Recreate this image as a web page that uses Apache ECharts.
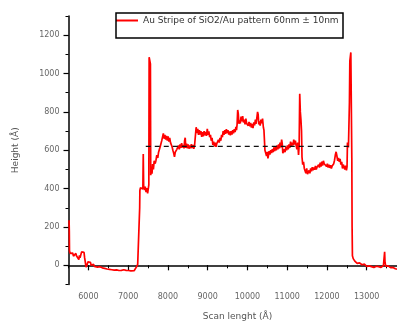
<!DOCTYPE html>
<html>
<head>
<meta charset="utf-8">
<style>
  html, body { margin: 0; padding: 0; background: #fff; }
  #chart { width: 397px; height: 325px; }
</style>
<script src="https://cdn.jsdelivr.net/npm/echarts@6/dist/echarts.min.js"></script>
</head>
<body>
<div id="chart"></div>
<script>
// Height profile across the Au stripe (scan position in Å, height in Å)
const scanX = [
  5515, 5520, 5525, 5545, 5565, 5585, 5605, 5625, 5645, 5665, 5685, 5700, 5720, 5740, 5760, 5775, 5790, 5810, 5830, 5850,
  5870, 5890, 5905, 5920, 5940, 5955, 5970, 5990, 6010, 6030, 6050, 6070, 6090, 6110, 6130, 6150, 6175, 6200, 6230, 6260,
  6290, 6320, 6350, 6380, 6410, 6440, 6470, 6500, 6530, 6560, 6590, 6620, 6650, 6680, 6710, 6740, 6770, 6800, 6830, 6860,
  6890, 6920, 6950, 6980, 7010, 7040, 7070, 7100, 7120, 7150, 7180, 7210, 7240, 7260, 7280, 7290, 7295, 7310, 7330, 7350,
  7370, 7380, 7390, 7410, 7430, 7450, 7470, 7490, 7510, 7520, 7528, 7545, 7560, 7568, 7585, 7600, 7615, 7635, 7655, 7680,
  7700, 7720, 7745, 7765, 7785, 7805, 7825, 7845, 7865, 7885, 7905, 7925, 7945, 7965, 7985, 8005, 8025, 8045, 8065, 8085,
  8105, 8125, 8145, 8165, 8185, 8205, 8225, 8245, 8265, 8285, 8305, 8325, 8345, 8365, 8385, 8405, 8420, 8435, 8450, 8470,
  8490, 8510, 8530, 8550, 8570, 8590, 8610, 8630, 8650, 8670, 8690, 8710, 8730, 8750, 8770, 8790, 8810, 8830, 8850, 8870,
  8890, 8910, 8930, 8950, 8970, 8990, 9010, 9030, 9050, 9070, 9090, 9110, 9130, 9150, 9170, 9190, 9210, 9230, 9250, 9270,
  9290, 9310, 9330, 9350, 9370, 9390, 9410, 9430, 9450, 9470, 9490, 9510, 9530, 9550, 9570, 9590, 9610, 9630, 9650, 9670,
  9690, 9710, 9725, 9740, 9755, 9770, 9785, 9800, 9820, 9840, 9860, 9880, 9900, 9920, 9940, 9960, 9980, 10000, 10020, 10040,
  10060, 10080, 10100, 10120, 10140, 10160, 10180, 10200, 10215, 10235, 10255, 10270, 10285, 10300, 10320, 10340, 10360, 10380, 10400, 10415,
  10430, 10440, 10460, 10480, 10500, 10515, 10530, 10545, 10565, 10585, 10605, 10625, 10645, 10665, 10685, 10705, 10725, 10745, 10765, 10785,
  10805, 10820, 10840, 10860, 10875, 10890, 10905, 10925, 10945, 10965, 10985, 11005, 11025, 11045, 11065, 11085, 11105, 11125, 11145, 11165,
  11185, 11205, 11225, 11245, 11265, 11285, 11300, 11315, 11330, 11345, 11360, 11372, 11390, 11410, 11430, 11450, 11470, 11490, 11510, 11530,
  11550, 11570, 11590, 11610, 11630, 11650, 11670, 11690, 11710, 11730, 11750, 11770, 11790, 11810, 11830, 11850, 11870, 11890, 11910, 11930,
  11950, 11970, 11990, 12010, 12030, 12050, 12070, 12090, 12110, 12130, 12150, 12170, 12190, 12210, 12230, 12250, 12270, 12290, 12310, 12330,
  12350, 12370, 12390, 12410, 12430, 12450, 12470, 12490, 12505, 12515, 12525, 12540, 12555, 12565, 12575, 12590, 12600, 12615, 12625, 12632,
  12640, 12660, 12680, 12700, 12720, 12740, 12760, 12780, 12800, 12820, 12840, 12860, 12880, 12900, 12920, 12940, 12960, 12980, 13000, 13020,
  13040, 13060, 13080, 13100, 13120, 13140, 13160, 13180, 13200, 13220, 13240, 13260, 13280, 13300, 13320, 13340, 13360, 13380, 13400, 13420,
  13440, 13450, 13460, 13480, 13500, 13520, 13540, 13560, 13580, 13600, 13620, 13640, 13660, 13680, 13700, 13720, 13740, 13760
];
const heightY = [
  235, 180, 75, 62, 72, 55, 64, 48, 58, 45, 62, 50, 42, 56, 30, 52, 40, 50, 70, 66,
  72, 68, 40, 20, -10, -18, 5, 18, 26, 8, 16, 0, 10, -2, 6, -6, 2, -4, -9, -1,
  -7, -3, -13, -7, -16, -12, -19, -14, -21, -15, -23, -18, -25, -18, -24, -20, -27, -21, -26, -29,
  -23, -31, -26, -33, -27, -36, -29, -39, -32, -28, -20, -8, 5, 15, 12, 300, 390, 405, 395, 415,
  398, 580, 415, 392, 410, 382, 402, 375, 370, 420, 1085, 1085, 1050, 470, 505, 478, 528, 500, 545, 530,
  548, 575, 560, 590, 585, 618, 610, 650, 640, 688, 660, 680, 655, 675, 650, 672, 645, 665, 640, 630,
  618, 600, 585, 566, 590, 580, 605, 595, 625, 605, 630, 612, 637, 615, 628, 610, 650, 665, 612, 635,
  610, 630, 608, 625, 610, 632, 612, 628, 608, 625, 615, 720, 690, 712, 680, 705, 682, 700, 670, 695,
  672, 700, 678, 695, 675, 712, 680, 698, 668, 680, 650, 665, 628, 645, 620, 640, 618, 635, 625, 655,
  640, 665, 650, 680, 668, 700, 680, 705, 685, 710, 690, 705, 682, 698, 678, 700, 682, 705, 688, 710,
  695, 722, 705, 735, 810, 790, 738, 755, 740, 775, 750, 778, 745, 760, 735, 765, 740, 750, 728, 748,
  725, 742, 718, 738, 715, 745, 730, 760, 738, 765, 800, 785, 735, 750, 728, 760, 740, 765, 720, 705,
  700, 600, 585, 570, 592, 558, 575, 595, 578, 600, 585, 605, 590, 615, 595, 618, 600, 625, 605, 630,
  610, 640, 615, 655, 635, 585, 578, 605, 590, 618, 600, 625, 605, 630, 612, 645, 620, 640, 625, 655,
  630, 650, 625, 605, 640, 575, 625, 895, 800, 760, 700, 565, 525, 540, 505, 515, 480, 505, 475, 470,
  495, 480, 505, 490, 512, 495, 510, 498, 518, 500, 512, 505, 525, 510, 535, 515, 540, 520, 545, 530,
  520, 535, 515, 530, 510, 525, 508, 522, 505, 518, 512, 530, 548, 575, 592, 570, 545, 560, 540, 555,
  525, 540, 505, 525, 535, 500, 520, 495, 515, 640, 650, 615, 620, 850, 1065, 1060, 1110, 1105, 560, 200,
  50, 35, 25, 22, 15, 18, 10, 16, 6, 13, 4, 11, 3, 9, 1, 6, -3, 4, -6, -1,
  -9, -3, -9, -2, -7, -1, -6, -11, -3, -13, -5, -11, -15, -7, -13, -5, -11, -3, -9, -1,
  5, 70, 15, -5, 3, 5, -3, -8, -4, -12, -9, -14, -11, -17, -14, -18, -15, -20
];

// Mean stripe height guide
const guideX = [7443, 12555];
const guideY = [620, 620];

// Axis ticks
const xMajorTicks = [6000, 7000, 8000, 9000, 10000, 11000, 12000, 13000, 14000];
const xTickLabels = [6000, 7000, 8000, 9000, 10000, 11000, 12000, 13000];
const yMajorTicks = [0, 200, 400, 600, 800, 1000, 1200];

const seriesName = 'Au Stripe of SiO2/Au pattern 60nm \u00b1 10nm';

const profile = scanX.map((x, i) => [x, heightY[i]]);
const guide = guideX.map((x, i) => [x, guideY[i]]);

const labelFont = { fontFamily: 'DejaVu Sans', fontSize: 8, color: '#666', formatter: v => String(v) };
const lineBlack = { color: '#000', width: 1.5 };

const chart = echarts.init(document.getElementById('chart'), null, { renderer: 'canvas' });
chart.setOption({
  animation: false,
  backgroundColor: '#fff',
  grid: { left: 68.5, top: 16, width: 338, height: 268.5, containLabel: false, outerBoundsMode: 'none' },
  legend: {
    data: [{ name: seriesName, icon: 'rect' }],
    left: 116, top: 13,
    itemWidth: 22, itemHeight: 2, itemGap: 0,
    padding: [3, 0, 0, 0],
    textStyle: { fontFamily: 'DejaVu Sans', fontSize: 9, color: '#333' }
  },
  graphic: [{
    type: 'rect',
    shape: { x: 116, y: 13, width: 227, height: 25 },
    style: { fill: 'none', stroke: '#000', lineWidth: 1.5 },
    z: 100
  }],
  xAxis: [{
    type: 'value', min: 5500, max: 14000, position: 'bottom',
    name: 'Scan lenght (\u00c5)', nameLocation: 'middle', nameGap: 28,
    nameTextStyle: { fontFamily: 'DejaVu Sans', fontSize: 9, color: '#555' },
    axisLine: { show: true, lineStyle: lineBlack },
    axisTick: { show: true, customValues: xMajorTicks, length: 5, lineStyle: { color: '#000', width: 1.2 } },
    axisLabel: { customValues: xTickLabels, margin: 8, ...labelFont },
    splitLine: { show: false }
  }, {
    type: 'value', min: 5500, max: 14000, interval: 500, position: 'bottom',
    axisLine: { show: false },
    axisTick: { show: true, length: 3, lineStyle: { color: '#000', width: 1 } },
    axisLabel: { show: false },
    splitLine: { show: false }
  }],
  yAxis: [{
    type: 'value', min: -100, max: 1300, position: 'left',
    name: 'Height (\u00c5)', nameLocation: 'middle', nameGap: 48, nameRotate: 90,
    nameTextStyle: { fontFamily: 'DejaVu Sans', fontSize: 9, color: '#555' },
    axisLine: { show: true, lineStyle: lineBlack },
    axisTick: { show: true, customValues: yMajorTicks, length: 5, lineStyle: { color: '#000', width: 1.2 } },
    axisLabel: { customValues: yMajorTicks, margin: 9, ...labelFont },
    splitLine: { show: false }
  }, {
    type: 'value', min: -100, max: 1300, interval: 100, position: 'left',
    axisLine: { show: false },
    axisTick: { show: true, length: 3, lineStyle: { color: '#000', width: 1 } },
    axisLabel: { show: false },
    splitLine: { show: false }
  }],
  series: [{
    name: seriesName,
    type: 'line',
    data: profile,
    xAxisIndex: 0, yAxisIndex: 0,
    showSymbol: false, symbol: 'none',
    lineStyle: { color: '#ff0000', width: 1.7 },
    itemStyle: { color: '#ff0000' },
    z: 3
  }, {
    name: 'guide',
    type: 'line',
    data: guide,
    xAxisIndex: 0, yAxisIndex: 0,
    showSymbol: false, symbol: 'none',
    lineStyle: { color: '#111', width: 1.3, type: [5, 4] },
    z: 4,
    silent: true
  }]
});
</script>
</body>
</html>
